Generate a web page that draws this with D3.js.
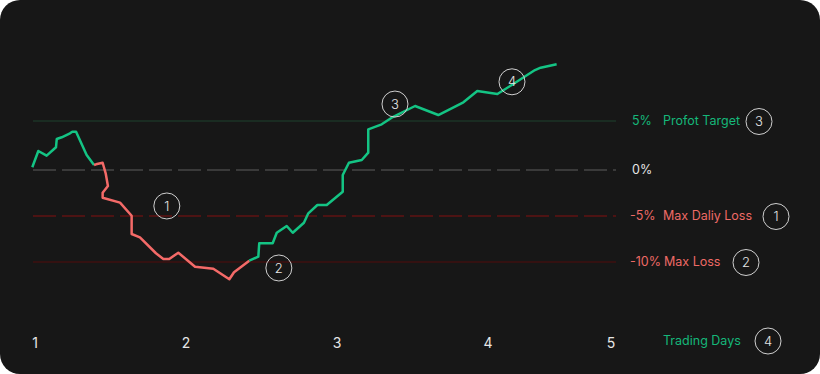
<!DOCTYPE html>
<html>
<head>
<meta charset="utf-8">
<script src="https://cdn.jsdelivr.net/npm/d3@7"></script>
<style>
  body { margin: 0; background: #fff; }
  svg { display: block; font-family: Inter, "Noto Sans", sans-serif; }
</style>
</head>
<body>
<div id="container"></div>
<script>
// day (x) and P&L percent (y) of the equity line
let startDays = [0.982, 1.022, 1.077, 1.139, 1.144, 1.177, 1.232, 1.247, 1.272, 1.342, 1.391];
let startPct  = [0.28, 1.94, 1.46, 2.32, 3.16, 3.34, 3.74, 3.91, 3.91, 1.53, 0.51];

let lossDays = [1.391, 1.404, 1.448, 1.468, 1.483, 1.448, 1.448, 1.563, 1.640, 1.640, 1.695, 1.801,
                1.850, 1.889, 1.949, 2.060, 2.181, 2.287, 2.318, 2.419];
let lossPct  = [0.51, 0.58, 0.74, -0.36, -1.74, -2.47, -3.01, -3.55, -4.97, -6.96, -7.32, -9.05,
                -9.67, -9.67, -8.99, -10.51, -10.73, -11.88, -11.12, -9.86];

let gainDays = [2.419, 2.479, 2.485, 2.574, 2.601, 2.667, 2.707, 2.781, 2.810, 2.870, 2.932, 3.038,
                3.038, 3.079, 3.164, 3.207, 3.207, 3.296, 3.362, 3.517, 3.671, 3.837, 3.929, 4.076,
                4.193, 4.382, 4.428, 4.558];
let gainPct  = [-9.86, -9.42, -7.97, -7.97, -6.82, -6.09, -6.82, -5.73, -4.71, -3.80, -3.80, -2.36,
                -0.54, 0.74, 1.02, 1.77, 4.15, 4.66, 5.34, 6.53, 5.61, 6.91, 8.06, 7.76,
                8.67, 10.20, 10.44, 10.79];

let dayTicks = [1, 2, 3, 4, 5];

let levelValues = [5, 0, -5, -10];
let levelPctLabels = ["5%", "0%", "-5%", "-10%"];
let levelNames = ["Profot Target", "", "Max Daliy Loss", "Max Loss"];
let levelBadges = ["3", "", "1", "2"];

// numbered markers on the chart
let markerDays = [1.873, 2.615, 3.384, 4.195];
let markerPct  = [-3.91, -10.65, 6.73, 9.0];
let markerText = ["1", "2", "3", "4"];

let width = 820, height = 374;

let svg = d3.select('#container')
            .append('svg')
            .attr("width", width)
            .attr("height", height);

svg.append('rect')
    .attr('width', width)
    .attr('height', height)
    .attr('rx', 20)
    .attr('fill', '#171717');

// the day labels are not evenly spaced in the picture, so piecewise scale
let x = d3.scaleLinear().domain([1, 4, 5]).range([35, 488, 611]);
let y = d3.scaleLinear().domain([-10, -5, 0, 5]).range([262, 216, 170, 121]);

let lineX0 = 33, lineX1 = 616;
let fs = 12.5;

let levelStyle = {
    "5":   {stroke: '#1d3527', dash: null, width: 1.5, color: '#15b77a'},
    "0":   {stroke: '#3a3a3a', dash: '23,6', width: 2, color: '#e6e6e6'},
    "-5":  {stroke: '#4d1313', dash: '23,6', width: 2, color: '#ee6a66'},
    "-10": {stroke: '#3f1010', dash: null, width: 1.5, color: '#ee6a66'}
};

levelValues.forEach((v, i) => {
    let st = levelStyle[v];
    svg.append('line')
        .attr('x1', lineX0).attr('x2', lineX1)
        .attr('y1', y(v)).attr('y2', y(v))
        .attr('stroke', st.stroke)
        .attr('stroke-width', st.width)
        .attr('stroke-dasharray', st.dash);

    svg.append('text')
        .attr('x', v < 0 ? 630 : 632)
        .attr('y', y(v))
        .attr('dy', '0.35em')
        .attr('font-size', fs)
        .attr('fill', st.color)
        .text(levelPctLabels[i]);

    if (levelNames[i]) {
        svg.append('text')
            .attr('x', v === -10 ? 664 : 663)
            .attr('y', y(v))
            .attr('dy', '0.35em')
            .attr('font-size', fs)
            .attr('fill', st.color)
            .text(levelNames[i]);
    }
});

function badge(cx, cy, label) {
    svg.append('circle')
        .attr('cx', cx).attr('cy', cy).attr('r', 13)
        .attr('fill', 'none')
        .attr('stroke', '#cfcfcf')
        .attr('stroke-width', 1);
    svg.append('text')
        .attr('x', cx).attr('y', cy)
        .attr('dy', '0.36em')
        .attr('text-anchor', 'middle')
        .attr('font-size', 13)
        .attr('font-weight', 300)
        .attr('fill', '#e6e6e6')
        .text(label);
}

// the equity line in three pieces
let line = d3.line()
    .x(d => x(d[0]))
    .y(d => y(d[1]));

let pieces = [
    {days: startDays, pct: startPct, color: '#14c484'},
    {days: lossDays, pct: lossPct, color: '#f46a68'},
    {days: gainDays, pct: gainPct, color: '#14c484'}
];

pieces.forEach(p => {
    svg.append('path')
        .datum(d3.zip(p.days, p.pct))
        .attr('d', line)
        .attr('fill', 'none')
        .attr('stroke', p.color)
        .attr('stroke-width', 2.5)
        .attr('stroke-linejoin', 'round');
});

markerText.forEach((t, i) => badge(x(markerDays[i]), y(markerPct[i]), t));

// badges next to the level names
let badgeX = {"5": 759, "-5": 776, "-10": 746};
levelValues.forEach((v, i) => {
    if (levelBadges[i]) badge(badgeX[v], y(v) + 0.5, levelBadges[i]);
});

// day axis
let axisY = 343;
svg.selectAll('.day')
    .data(dayTicks)
    .enter()
    .append('text')
    .attr('class', 'day')
    .attr('x', d => x(d))
    .attr('y', axisY)
    .attr('dy', '0.35em')
    .attr('text-anchor', 'middle')
    .attr('font-size', 14)
    .attr('fill', '#e6e6e6')
    .text(d => d);

svg.append('text')
    .attr('x', 663)
    .attr('y', 341)
    .attr('dy', '0.35em')
    .attr('font-size', fs)
    .attr('fill', '#15b77a')
    .text('Trading Days');

badge(768, 341, '4');
</script>
</body>
</html>
